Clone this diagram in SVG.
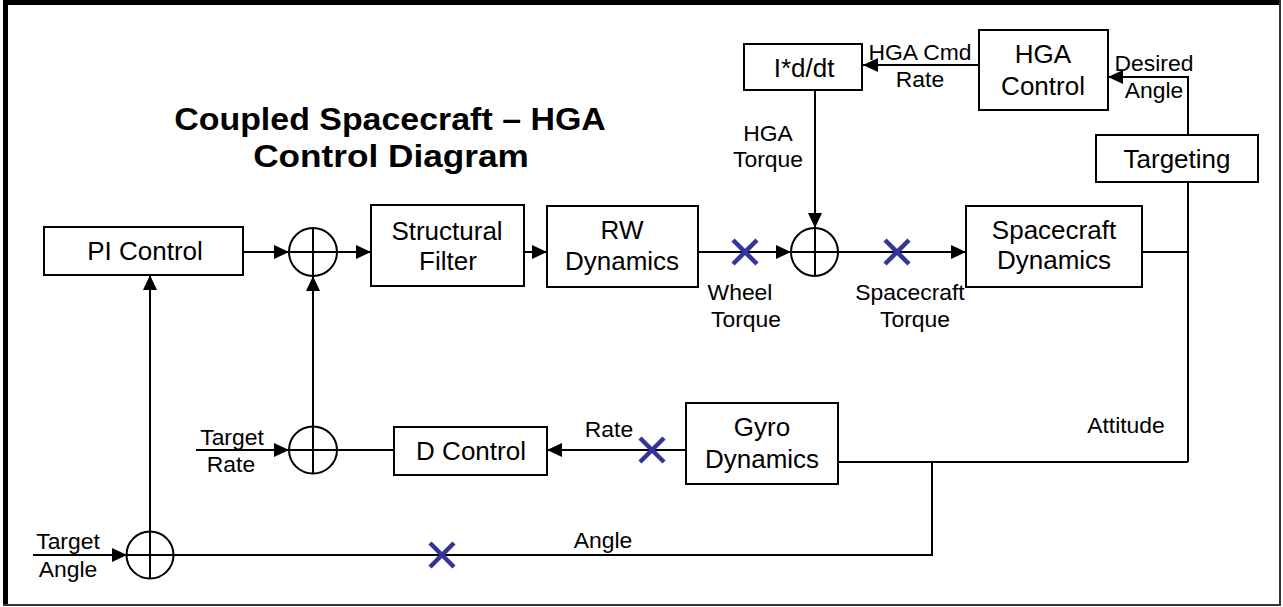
<svg xmlns="http://www.w3.org/2000/svg" width="1283" height="607" viewBox="0 0 1283 607">
<defs>
<marker id="ah" markerUnits="userSpaceOnUse" markerWidth="15" markerHeight="14" refX="15" refY="7" orient="auto">
<path d="M0,0 L15,7 L0,14 z" fill="#000"/>
</marker>
<style>
.box{fill:#fff;stroke:#000;stroke-width:2}
.sum{fill:#fff;stroke:#000;stroke-width:2}
.ln{fill:none;stroke:#000;stroke-width:2}
.arr{fill:none;stroke:#000;stroke-width:2;marker-end:url(#ah)}
.x{fill:none;stroke:#333399;stroke-width:4.5}
.bt{font-family:"Liberation Sans",Arial,sans-serif;font-size:25px;text-anchor:middle;fill:#000}
.lt{font-family:"Liberation Sans",Arial,sans-serif;font-size:22px;text-anchor:middle;fill:#000}
.tt{font-family:"Liberation Sans",Arial,sans-serif;font-size:32px;font-weight:bold;text-anchor:middle;fill:#000}
</style>
</defs>
<rect x="0" y="0" width="1283" height="607" fill="#fff"/>
<g id="frame">
<rect x="3" y="0" width="1278" height="5" fill="#000"/>
<rect x="3" y="0" width="5" height="606" fill="#000"/>
<line x1="1280" y1="0" x2="1280" y2="606" stroke="#333" stroke-width="2"/>
<line x1="3" y1="605" x2="1281" y2="605" stroke="#333" stroke-width="2"/>
</g>
<g id="title">
<text class="tt" transform="translate(390,130) scale(1.06,1)">Coupled Spacecraft – HGA</text>
<text class="tt" transform="translate(391,167) scale(1.1,1)">Control Diagram</text>
</g>
<g id="connectors">
<path class="arr" d="M243,252 H289"/>
<path class="arr" d="M337,252 H371"/>
<path class="arr" d="M524,252 H547"/>
<path class="arr" d="M698,252 H791"/>
<path class="arr" d="M838,252 H966"/>
<path class="ln" d="M1142,252 H1188"/>
<path class="ln" d="M1188,182 V462"/>
<path class="arr" d="M1188,135 V77 H1108"/>
<path class="arr" d="M979,65 H863"/>
<path class="arr" d="M815,90 V228"/>
<path class="ln" d="M838,462 H1188"/>
<path class="ln" d="M932,462 V555 H174"/>
<path class="arr" d="M686,450 H547"/>
<path class="ln" d="M394,450 H337"/>
<path class="arr" d="M196,450 H289"/>
<path class="arr" d="M313,427 V276"/>
<path class="arr" d="M33,555 H127"/>
<path class="arr" d="M150,532 V275"/>
</g>
<g id="pi-control">
<rect class="box" x="44" y="227" width="199" height="48"/>
<text class="bt" transform="translate(145,260) scale(1.04,1)">PI Control</text>
</g>
<g id="sum1">
<ellipse class="sum" cx="313" cy="252" rx="24" ry="24"/>
<path class="ln" d="M289,252 H337 M313,228 V276"/>
</g>
<g id="structural-filter">
<rect class="box" x="371" y="205" width="153" height="81"/>
<text class="bt" transform="translate(447,240) scale(1.04,1)">Structural</text>
<text class="bt" transform="translate(448,270) scale(1.04,1)">Filter</text>
</g>
<g id="rw-dynamics">
<rect class="box" x="547" y="206" width="151" height="81"/>
<text class="bt" transform="translate(622,239) scale(1.04,1)">RW</text>
<text class="bt" transform="translate(622,270) scale(1.04,1)">Dynamics</text>
</g>
<g id="sum2">
<ellipse class="sum" cx="814.5" cy="252" rx="23.5" ry="24"/>
<path class="ln" d="M791,252 H838 M815,228 V276"/>
</g>
<g id="spacecraft-dynamics">
<rect class="box" x="966" y="206" width="176" height="81"/>
<text class="bt" transform="translate(1054,239) scale(1.04,1)">Spacecraft</text>
<text class="bt" transform="translate(1054,269) scale(1.04,1)">Dynamics</text>
</g>
<g id="i-d-dt">
<rect class="box" x="744" y="44" width="118" height="46"/>
<text class="bt" transform="translate(804,77) scale(1.04,1)">I*d/dt</text>
</g>
<g id="hga-control">
<rect class="box" x="979" y="30" width="129" height="80"/>
<text class="bt" transform="translate(1043,63) scale(1.04,1)">HGA</text>
<text class="bt" transform="translate(1043,95) scale(1.04,1)">Control</text>
</g>
<g id="targeting">
<rect class="box" x="1096" y="135" width="162" height="47"/>
<text class="bt" transform="translate(1177,168) scale(1.04,1)">Targeting</text>
</g>
<g id="gyro-dynamics">
<rect class="box" x="686" y="403" width="152" height="81"/>
<text class="bt" transform="translate(762,436) scale(1.04,1)">Gyro</text>
<text class="bt" transform="translate(762,468) scale(1.04,1)">Dynamics</text>
</g>
<g id="d-control">
<rect class="box" x="394" y="427" width="153" height="48"/>
<text class="bt" transform="translate(471,460) scale(1.04,1)">D Control</text>
</g>
<g id="sum4">
<ellipse class="sum" cx="313" cy="450" rx="24" ry="23.5"/>
<path class="ln" d="M289,450 H337 M313,427 V474"/>
</g>
<g id="sum3">
<ellipse class="sum" cx="150" cy="555" rx="23.5" ry="23.5"/>
<path class="ln" d="M127,555 H174 M150,532 V579"/>
</g>
<g id="break-points">
<path class="x" d="M733,240 L757,264 M757,240 L733,264"/>
<path class="x" d="M885,240 L909,264 M909,240 L885,264"/>
<path class="x" d="M640,438 L664,462 M664,438 L640,462"/>
<path class="x" d="M430,543 L454,567 M454,543 L430,567"/>
</g>
<g id="labels">
<text class="lt" transform="translate(920,60) scale(1.04,1)">HGA Cmd</text>
<text class="lt" transform="translate(920,87) scale(1.04,1)">Rate</text>
<text class="lt" transform="translate(1154,71) scale(1.04,1)">Desired</text>
<text class="lt" transform="translate(1154,98) scale(1.04,1)">Angle</text>
<text class="lt" transform="translate(768,141) scale(1.04,1)">HGA</text>
<text class="lt" transform="translate(768,167) scale(1.04,1)">Torque</text>
<text class="lt" transform="translate(740,300) scale(1.04,1)">Wheel</text>
<text class="lt" transform="translate(746,327) scale(1.04,1)">Torque</text>
<text class="lt" transform="translate(910,300) scale(1.04,1)">Spacecraft</text>
<text class="lt" transform="translate(915,327) scale(1.04,1)">Torque</text>
<text class="lt" transform="translate(1126,433) scale(1.04,1)">Attitude</text>
<text class="lt" transform="translate(609,437) scale(1.04,1)">Rate</text>
<text class="lt" transform="translate(232,445) scale(1.04,1)">Target</text>
<text class="lt" transform="translate(231,472) scale(1.04,1)">Rate</text>
<text class="lt" transform="translate(68,549) scale(1.04,1)">Target</text>
<text class="lt" transform="translate(68,577) scale(1.04,1)">Angle</text>
<text class="lt" transform="translate(603,548) scale(1.04,1)">Angle</text>
</g>
</svg>
